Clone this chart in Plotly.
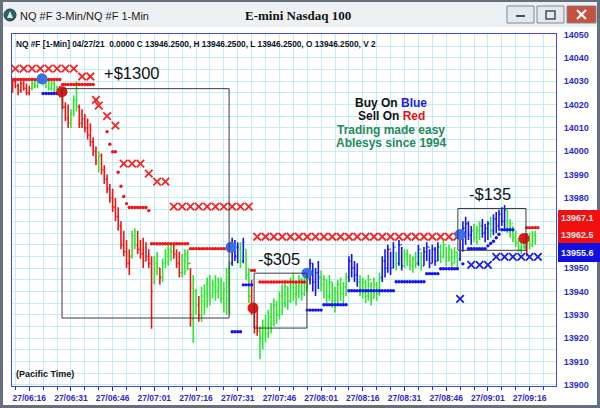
import plotly.graph_objects as go
from datetime import datetime, timedelta

BASE = datetime(2021, 4, 27, 6, 10)

# ---------------- 1-minute bars (minute index from 06:10) ----------------
bar_high = [14031, 14031, 14029, 14030, 14030, 14029, 14028, 14030, 14031, 14031,
            14033, 14033, 14031, 14031, 14030, 14030, 14028, 14028, 14026, 14021,
            14020, 14018, 14024, 14030, 14020, 14018, 14016, 14014, 14012, 14006,
            14002, 14000, 13999, 13994, 13990, 13986, 13984, 13980, 13976, 13970,
            13966, 13962, 13958, 13966, 13967, 13966, 13962, 13963, 13961, 13958,
            13955, 13955, 13957, 13950, 13954, 13958, 13960, 13960, 13960, 13958,
            13957, 13956, 13958, 13958, 13950, 13947, 13941, 13938, 13942, 13943,
            13946, 13947, 13945, 13947, 13946, 13946, 13944, 13950, 13953, 13963,
            13962, 13961, 13961, 13963, 13958, 13950, 13945, 13935, 13933, 13925,
            13928, 13930, 13932, 13935, 13937, 13936, 13940, 13943, 13945, 13942,
            13946, 13948, 13944, 13947, 13946, 13949, 13948, 13954, 13952, 13950,
            13953, 13949, 13947, 13945, 13947, 13944, 13942, 13945, 13946, 13944,
            13948, 13955, 13956, 13953, 13952, 13947, 13946, 13945, 13947, 13944,
            13946, 13944, 13948, 13955, 13958, 13960, 13957, 13961, 13957, 13962,
            13959, 13958, 13958, 13956, 13955, 13957, 13960, 13957, 13959, 13961,
            13958, 13960, 13959, 13961, 13960, 13962, 13959, 13960, 13958, 13959,
            13957, 13965, 13970, 13972, 13970, 13968, 13969, 13968, 13970, 13971,
            13969, 13970, 13972, 13973, 13974, 13975, 13976, 13977, 13975, 13971,
            13968, 13966, 13963, 13963, 13964, 13965, 13965, 13966, 13966]
bar_low = [14025, 14027, 14024, 14025, 14026, 14024, 14024, 14026, 14027, 14027,
           14029, 14028, 14027, 14026, 14026, 14025, 14024, 14023, 14018, 14013,
           14010, 14010, 14015, 14017, 14010, 14010, 14008, 14005, 14002, 13998,
           13994, 13991, 13990, 13986, 13982, 13978, 13974, 13970, 13966, 13958,
           13955, 13950, 13947, 13954, 13958, 13956, 13954, 13950, 13953, 13950,
           13924, 13943, 13947, 13943, 13944, 13950, 13951, 13953, 13954, 13950,
           13946, 13946, 13947, 13949, 13925, 13918, 13930, 13927, 13927, 13930,
           13933, 13934, 13937, 13936, 13937, 13935, 13931, 13930, 13930, 13951,
           13953, 13952, 13950, 13952, 13945, 13935, 13930, 13922, 13921, 13911,
           13915, 13918, 13920, 13922, 13925, 13926, 13928, 13930, 13933, 13932,
           13935, 13936, 13934, 13937, 13936, 13938, 13940, 13943, 13940, 13938,
           13941, 13940, 13937, 13935, 13936, 13933, 13931, 13934, 13936, 13935,
           13938, 13944, 13946, 13944, 13942, 13938, 13937, 13935, 13936, 13934,
           13937, 13936, 13938, 13944, 13946, 13948, 13947, 13950, 13949, 13951,
           13949, 13950, 13951, 13949, 13948, 13950, 13951, 13949, 13951, 13953,
           13950, 13952, 13951, 13953, 13952, 13954, 13951, 13953, 13950, 13952,
           13950, 13953, 13957, 13960, 13962, 13960, 13961, 13960, 13962, 13963,
           13961, 13962, 13963, 13964, 13965, 13966, 13968, 13967, 13965, 13963,
           13961, 13959, 13957, 13956, 13958, 13955, 13958, 13959, 13960]
bar_open = [14028, 14030, 14028, 14026, 14029, 14027, 14025, 14027, 14029, 14028,
            14030, 14032, 14029, 14030, 14027, 14029, 14026, 14027, 14025, 14019,
            14014, 14012, 14016, 14022, 14019, 14012, 14014, 14010, 14007, 14004,
            14000, 13995, 13998, 13992, 13988, 13984, 13980, 13976, 13972, 13968,
            13960, 13957, 13952, 13955, 13964, 13960, 13958, 13956, 13953, 13955,
            13952, 13944, 13952, 13950, 13946, 13952, 13955, 13958, 13957, 13956,
            13952, 13948, 13953, 13956, 13952, 13928, 13940, 13934, 13930, 13936,
            13939, 13943, 13938, 13942, 13940, 13943, 13937, 13940, 13946, 13952,
            13960, 13955, 13958, 13953, 13958, 13947, 13938, 13932, 13925, 13923,
            13920, 13925, 13922, 13929, 13926, 13934, 13930, 13938, 13935, 13942,
            13936, 13944, 13939, 13942, 13945, 13939, 13947, 13945, 13952, 13944,
            13948, 13946, 13943, 13945, 13938, 13944, 13936, 13940, 13943, 13939,
            13942, 13946, 13953, 13950, 13947, 13944, 13941, 13944, 13938, 13945,
            13937, 13943, 13939, 13946, 13953, 13950, 13958, 13950, 13959, 13952,
            13960, 13951, 13956, 13953, 13951, 13954, 13952, 13958, 13951, 13957,
            13959, 13952, 13958, 13953, 13959, 13955, 13960, 13953, 13958, 13952,
            13957, 13954, 13963, 13967, 13969, 13964, 13966, 13963, 13966, 13968,
            13965, 13967, 13969, 13966, 13971, 13968, 13973, 13970, 13975, 13967,
            13969, 13963, 13961, 13958, 13961, 13959, 13962, 13960, 13964]
bar_close = [14030, 14028, 14026, 14029, 14027, 14025, 14027, 14029, 14028, 14030,
             14032, 14029, 14030, 14027, 14029, 14026, 14027, 14025, 14019, 14014,
             14012, 14016, 14022, 14019, 14012, 14014, 14010, 14007, 14004, 14000,
             13996, 13998, 13992, 13988, 13984, 13980, 13976, 13972, 13968, 13960,
             13957, 13952, 13955, 13964, 13960, 13958, 13956, 13953, 13955, 13952,
             13940, 13952, 13955, 13946, 13952, 13956, 13958, 13957, 13956, 13952,
             13948, 13954, 13956, 13952, 13930, 13940, 13934, 13930, 13938, 13940,
             13944, 13938, 13943, 13940, 13944, 13937, 13941, 13948, 13952, 13960,
             13955, 13959, 13953, 13961, 13947, 13938, 13932, 13925, 13923, 13920,
             13925, 13922, 13929, 13926, 13934, 13930, 13938, 13935, 13942, 13936,
             13944, 13939, 13942, 13945, 13939, 13947, 13945, 13952, 13944, 13948,
             13946, 13943, 13945, 13938, 13944, 13936, 13940, 13943, 13939, 13942,
             13946, 13953, 13950, 13947, 13944, 13941, 13944, 13938, 13945, 13937,
             13943, 13939, 13946, 13953, 13950, 13958, 13950, 13959, 13952, 13960,
             13951, 13956, 13953, 13951, 13954, 13952, 13958, 13951, 13957, 13959,
             13952, 13958, 13953, 13959, 13955, 13960, 13953, 13958, 13952, 13957,
             13954, 13963, 13967, 13969, 13964, 13966, 13963, 13966, 13968, 13965,
             13967, 13969, 13966, 13971, 13968, 13973, 13970, 13975, 13967, 13969,
             13963, 13961, 13958, 13961, 13959, 13962, 13960, 13964, 13962]
# R = sell (red), G = neutral (green), B = buy (blue)
bar_kind = ("RRRRRRR GGGGGGGGGG RRRR GGG RRRRRRR G RRRRRRRRRRR GG RRRRRR GG R GGGG "
            "RRR GGG R GG R GGGGGGGGGGG BBB G B GG RRR GGGGGGGGGGGGGGGGGG BBBB "
            "GGGGGGGGGG BBBB GGGGGGGG BBBBB G BB GGGGG B G BBBBBB GGGGGGG BBBBB GGG "
            "BBB G BBBBB GGGGGGG R GGG").replace(" ", "")

# ---------------- trailing stop dots ----------------
red_seg_from = [0, 18, 42, 50, 64, 86, 89, 185]
red_seg_to = [17, 29, 48, 63, 78, 87, 105, 189]
red_seg_price = [14030.7, 14028.6, 13975.9, 13960.4, 13958.3, 13949.0, 13944.0, 13967.3]
red_dot_t = [30, 34, 35, 36, 37, 38, 39, 40, 41, 49]
red_dot_p = [14022.0, 14008.4, 14003.0, 13999.8, 13999.8, 13991.0, 13985.0, 13980.6, 13977.6, 13974.6]

blue_seg_from = [11, 79, 83, 106, 112, 121, 138, 149, 154, 162, 164, 176]
blue_seg_to = [17, 82, 86, 111, 120, 137, 148, 153, 160, 162, 170, 180]
blue_seg_price = [14024.7, 13922.7, 13942.8, 13932.0, 13934.3, 13940.3, 13944.1,
                  13947.6, 13949.7, 13951.8, 13958.3, 13966.4]
blue_dot_t = [171, 172, 173, 174, 175]
blue_dot_p = [13959.5, 13960.5, 13961.5, 13963.0, 13964.5]

# ---------------- 3-minute stop crosses ----------------
red_x_t = [1, 4, 7, 10, 13, 16, 19, 22, 25, 28, 30, 31, 34, 37, 40, 43, 46, 49, 52, 55,
           58, 61, 64, 67, 70, 73, 76, 79, 82, 85,
           88, 91, 94, 97, 100, 103, 106, 109, 112, 115, 118, 121, 124, 127, 130, 133,
           136, 139, 142, 145, 148, 151, 154, 157, 160]
red_x_p = [14035.4, 14035.4, 14035.4, 14035.4, 14035.4, 14035.4, 14035.4, 14035.4,
           14032.0, 14032.0, 14022.0, 14019.5, 14015.0, 14011.0,
           13994.7, 13994.7, 13994.7, 13990.4, 13987.0, 13987.0,
           13976.3, 13976.3, 13976.3, 13976.3, 13976.3, 13976.3, 13976.3, 13976.3, 13976.3, 13976.3,
           13963.4, 13963.4, 13963.4, 13963.4, 13963.4, 13963.4, 13963.4, 13963.4, 13963.4,
           13963.4, 13963.4, 13963.4, 13963.4, 13963.4, 13963.4, 13963.4, 13963.4, 13963.4,
           13963.4, 13963.4, 13963.4, 13963.4, 13963.4, 13963.4, 13963.4]
blue_x_t = [161, 165, 168, 171, 174, 177, 180, 183, 186, 189]
blue_x_p = [13936.8, 13951.4, 13951.4, 13951.4, 13954.8, 13954.8, 13954.8, 13954.8, 13954.8, 13954.8]

# ---------------- entry signals ----------------
sig_t = [10.6, 17.8, 78.6, 86.5, 105.9, 161.0, 184.0]
sig_p = [14031.0, 14025.5, 13958.9, 13932.9, 13947.8, 13964.4, 13962.7]
sig_kind = "BRBRBBR"

# ---------------- trade boxes ----------------
box_t0 = [17.8, 86.9, 160.2]
box_t1 = [77.9, 105.9, 184.7]
box_top = [14026.8, 13947.8, 13975.5]
box_bot = [13928.6, 13924.3, 13957.6]
box_label = ["+$1300", "-$305", "-$135"]
label_t = [43.1, 95.7, 171.7]
label_p = [14033.6, 13953.8, 13981.5]

# price-scale labels (13960 / 13970 are hidden behind the last-price boxes)
y_tick_vals = [13900, 13910, 13920, 13930, 13940, 13950, 13980, 13990,
               14000, 14010, 14020, 14030, 14040, 14050]
last_red_vals = ["13967.1", "13962.5"]
last_blue_vals = ["13955.6"]

# ======================================================================
RED, GREEN, BLUE = "#f01414", "#2ee62e", "#1414f0"
KCOL = {"R": RED, "G": GREEN, "B": BLUE}
AXIS = "#2b2bc8"
GRID = "#c2edf6"
FRAME = "#66707c"
FONT = "Liberation Sans, Arial, sans-serif"


def tm(m):
    return (BASE + timedelta(minutes=m)).strftime("%Y-%m-%d %H:%M:%S")


def px(x):
    return (x - 12) / 544.0


def py(y):
    return (386 - y) / 352.0


fig = go.Figure()

# bars
for k in "RGB":
    idx = [i for i, c in enumerate(bar_kind) if c == k]
    fig.add_trace(go.Ohlc(
        x=[tm(i) for i in idx],
        open=[bar_open[i] for i in idx], high=[bar_high[i] for i in idx],
        low=[bar_low[i] for i in idx], close=[bar_close[i] for i in idx],
        increasing_line_color=KCOL[k], decreasing_line_color=KCOL[k],
        line_width=1.6, tickwidth=0.4, hoverinfo="skip", showlegend=False))


def seg_points(f, t, p):
    xs, ys = [], []
    for a, b, v in zip(f, t, p):
        for m in range(a, b + 1):
            xs.append(tm(m))
            ys.append(v)
    return xs, ys


rx, ry = seg_points(red_seg_from, red_seg_to, red_seg_price)
rx += [tm(m) for m in red_dot_t]
ry += red_dot_p
fig.add_trace(go.Scatter(x=rx, y=ry, mode="markers",
                         marker=dict(size=3.4, color=RED), hoverinfo="skip"))
bx, by = seg_points(blue_seg_from, blue_seg_to, blue_seg_price)
bx += [tm(m) for m in blue_dot_t]
by += blue_dot_p
fig.add_trace(go.Scatter(x=bx, y=by, mode="markers",
                         marker=dict(size=3.4, color=BLUE), hoverinfo="skip"))

fig.add_trace(go.Scatter(x=[tm(m) for m in red_x_t], y=red_x_p, mode="markers",
                         marker=dict(symbol="x-thin", size=7.5,
                                     line=dict(width=1.8, color="#f52525")),
                         hoverinfo="skip"))
fig.add_trace(go.Scatter(x=[tm(m) for m in blue_x_t], y=blue_x_p, mode="markers",
                         marker=dict(symbol="x-thin", size=7.5,
                                     line=dict(width=1.8, color="#1c1ce8")),
                         hoverinfo="skip"))

fig.add_trace(go.Scatter(
    x=[tm(m) for m in sig_t], y=sig_p, mode="markers",
    marker=dict(size=11, color=["#3c6fe8" if k == "B" else "#e21818" for k in sig_kind]),
    hoverinfo="skip"))

shapes = []
# window chrome
shapes.append(dict(type="rect", xref="paper", yref="paper", layer="below",
                   x0=px(3), x1=px(597), y0=py(405), y1=py(27),
                   fillcolor="white", line=dict(width=0)))
shapes.append(dict(type="rect", xref="paper", yref="paper", layer="below",
                   x0=px(3), x1=px(597), y0=py(27), y1=py(2),
                   fillcolor="#eef1f4", line=dict(width=0)))
# window buttons
for x0, x1, fc in [(507, 534, "#e4e9ee"), (537, 564, "#e4e9ee"), (567, 596, "#c8503e")]:
    shapes.append(dict(type="rect", xref="paper", yref="paper", layer="above",
                       x0=px(x0), x1=px(x1), y0=py(23), y1=py(6),
                       fillcolor=fc, line=dict(width=1, color="#7d8895")))
shapes.append(dict(type="rect", xref="paper", yref="paper", layer="above",
                   x0=px(516), x1=px(525), y0=py(17), y1=py(15),
                   fillcolor="#4a4f58", line=dict(width=0)))
shapes.append(dict(type="rect", xref="paper", yref="paper", layer="above",
                   x0=px(546), x1=px(555), y0=py(19), y1=py(11),
                   fillcolor="rgba(0,0,0,0)", line=dict(width=1.5, color="#4a4f58")))
shapes.append(dict(type="path", xref="paper", yref="paper", layer="above",
                   path="M %f %f L %f %f M %f %f L %f %f" % (
                       px(577), py(10), px(586), py(19), px(586), py(10), px(577), py(19)),
                   line=dict(width=2.2, color="white")))
shapes.append(dict(type="circle", xref="paper", yref="paper", layer="above",
                   x0=px(4), x1=px(16), y0=py(21), y1=py(9),
                   fillcolor="#2f5f6f", line=dict(width=1, color="#20404a")))
shapes.append(dict(type="path", xref="paper", yref="paper", layer="above",
                   path="M %f %f L %f %f L %f %f Z" % (px(10), py(11), px(13), py(18), px(7), py(18)),
                   fillcolor="#d9f0d9", line=dict(width=0)))
# trade boxes
for a, b, tp, bt in zip(box_t0, box_t1, box_top, box_bot):
    shapes.append(dict(type="rect", xref="x", yref="y", x0=tm(a), x1=tm(b), y0=bt, y1=tp,
                       line=dict(color="#3a3a3a", width=1), layer="above"))
# last-price boxes on the scale
shapes.append(dict(type="rect", xref="paper", yref="paper", layer="above",
                   x0=px(558), x1=px(600), y0=py(243), y1=py(210),
                   fillcolor="#f01010", line=dict(width=0)))
shapes.append(dict(type="rect", xref="paper", yref="paper", layer="above",
                   x0=px(558), x1=px(600), y0=py(262), y1=py(243),
                   fillcolor="#1010e0", line=dict(width=0)))

ann = []
for lab, t, p in zip(box_label, label_t, label_p):
    ann.append(dict(x=tm(t), y=p, xref="x", yref="y", text=lab, showarrow=False,
                    xanchor="center", yanchor="middle",
                    font=dict(family=FONT, size=16.5, color="#111111")))


def note(x, y, text, size, color="#111111", anchor="left", weight="bold", family=FONT):
    ann.append(dict(x=px(x), y=py(y), xref="paper", yref="paper", text=text,
                    xanchor=anchor, yanchor="middle", showarrow=False,
                    font=dict(family=family, size=size, color=color, weight=weight)))


note(14, 43.5, "NQ #F [1-Min] 04/27/21  0.0000 C 13946.2500, H 13946.2500, "
               "L 13946.2500, O 13946.2500, V 2", 8.3)
note(14, 373.5, "(Pacific Time)", 9)
promo = [("Buy On <span style='color:#1c1ce6'>Blue</span>", "#111111", 102.5),
         ("Sell On <span style='color:#f01010'>Red</span>", "#111111", 116),
         ("Trading made easy", "#1f8a5c", 129.5),
         ("Ablesys since 1994", "#1f8a5c", 143)]
for txt, col, yy in promo:
    note(391, yy, txt, 12, col, anchor="center")
note(18, 15.5, "NQ #F 3-Min/NQ #F 1-Min", 11, "#1a1a1a", weight="normal")
note(298, 15.5, "E-mini Nasdaq 100", 13, anchor="center",
     family="Liberation Serif, Times New Roman, serif")
for v, yy in zip(last_red_vals, [218, 235]):
    note(559, yy, v, 9, "#e4e4e4")
for v, yy in zip(last_blue_vals, [252.5]):
    note(559, yy, v, 9, "#f0f0f0")

fig.update_layout(
    width=600, height=408, margin=dict(l=12, r=44, t=34, b=22, autoexpand=False),
    paper_bgcolor=FRAME, plot_bgcolor="white", showlegend=False,
    shapes=shapes, annotations=ann,
    xaxis=dict(type="date", range=[tm(-0.2), tm(195.5)], tickformat="%d/%H:%M",
               tick0=tm(6), dtick=15 * 60 * 1000, ticks="outside", ticklen=4,
               tickcolor=AXIS, tickfont=dict(family=FONT, size=8.5, color=AXIS, weight="bold"),
               showgrid=True, gridcolor=GRID, gridwidth=1,
               minor=dict(tick0=tm(6), dtick=5 * 60 * 1000, showgrid=True, gridcolor=GRID,
                          ticks="outside", ticklen=3, tickcolor=AXIS),
               showline=True, mirror=True, linecolor="#4646e0", linewidth=1,
               zeroline=False, rangeslider=dict(visible=False), fixedrange=True,
               automargin=False),
    yaxis=dict(side="right", range=[13899.5, 14050.2], tickmode="array",
               tickvals=y_tick_vals, tickformat="d",
               ticks="outside", ticklen=5, tickcolor="rgba(0,0,0,0)",
               tickfont=dict(family=FONT, size=9, color=AXIS, weight="bold"),
               showgrid=True, gridcolor=GRID, gridwidth=1,
               minor=dict(tick0=13900, dtick=5, showgrid=True, gridcolor=GRID),
               showline=True, mirror=True, linecolor="#4646e0", linewidth=1,
               zeroline=False, fixedrange=True, automargin=False),
)

fig.write_html("out.html", config={"displayModeBar": False},
               post_script="document.body.style.margin='0';document.body.style.padding='0';"
                           "document.body.style.overflow='hidden';")
